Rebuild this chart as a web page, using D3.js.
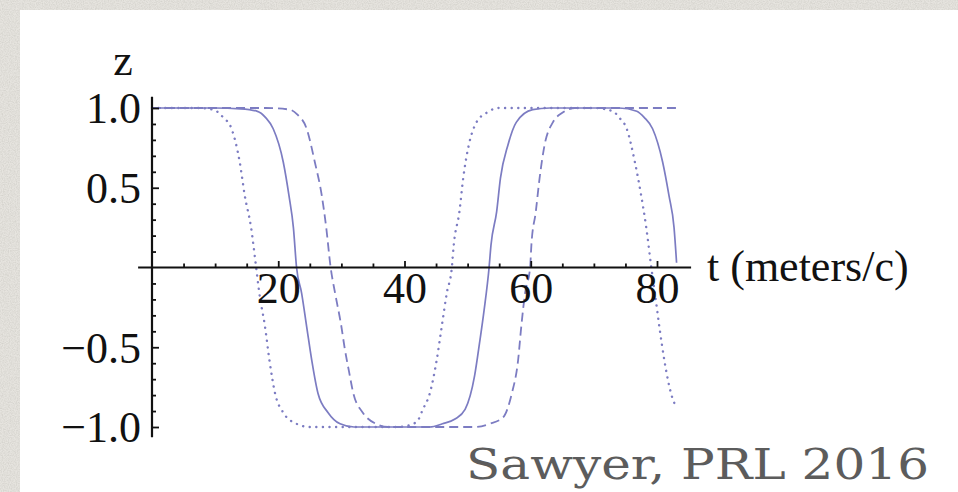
<!DOCTYPE html>
<html>
<head>
<meta charset="utf-8">
<script src="https://cdn.jsdelivr.net/npm/d3@7"></script>
<style>
  html, body { margin: 0; padding: 0; background: #e4e2dd; }
  svg { display: block; }
</style>
</head>
<body>
<svg id="chart" width="958" height="492"></svg>
<script>
// z(t) for three runs, read as [t, z] pairs
const solidSeries = [
  [0, 1], [10, 1], [14, 0.995], [16.6, 0.98], [18, 0.94], [19.2, 0.87], [20.8, 0.66],
  [21.7, 0.45], [22.4, 0.25], [22.9, 0], [23.7, -0.16], [24.5, -0.37], [25.3, -0.58],
  [26.3, -0.79], [27.9, -0.91], [29.8, -0.98], [32, -1], [44, -1], [46, -0.98],
  [48, -0.95], [49.6, -0.89], [51.1, -0.68], [51.9, -0.47], [52.6, -0.27], [53.4, 0],
  [53.7, 0.14], [54.6, 0.35], [55.2, 0.56], [56.4, 0.77], [57.7, 0.91], [60.3, 0.99],
  [63, 1], [74, 1], [76.8, 0.98], [78, 0.94], [79.3, 0.87], [80.9, 0.66], [81.9, 0.45],
  [82.7, 0.25], [83.1, 0.03]
];
const dashedSeries = [
  [0, 1], [18, 1], [21.8, 0.99], [23, 0.96], [24.5, 0.87], [25.8, 0.66], [26.9, 0.45],
  [27.6, 0.25], [28.3, 0], [29, -0.16], [30, -0.37], [30.5, -0.5], [31.2, -0.65],
  [31.9, -0.79], [33.4, -0.91], [35.5, -0.98], [37.5, -1], [51, -1], [53.5, -0.98],
  [55.6, -0.94], [57, -0.79], [58, -0.58], [58.5, -0.37], [59.1, -0.16], [59.9, 0],
  [60.1, 0.14], [60.8, 0.35], [61.4, 0.56], [62.2, 0.77], [63.5, 0.91], [65, 0.97],
  [67, 1], [83.3, 1]
];
const dottedSeries = [
  [0, 1], [7, 1], [9.7, 0.99], [11.3, 0.94], [12.6, 0.87], [13.9, 0.66], [14.7, 0.45],
  [15.7, 0.25], [16.5, 0], [17, -0.16], [17.9, -0.37], [18.6, -0.58], [19.5, -0.79],
  [20.8, -0.91], [22.9, -0.98], [25, -1], [39, -1], [41.9, -0.97], [42.9, -0.89],
  [44, -0.79], [45.1, -0.58], [45.9, -0.37], [46.7, -0.16], [47.5, 0], [47.8, 0.14],
  [48.7, 0.35], [49.3, 0.56], [50.2, 0.77], [51.4, 0.91], [53, 0.97], [55, 1],
  [70, 1], [73, 0.98], [74, 0.94], [75.2, 0.87], [76.5, 0.66], [77.5, 0.45],
  [78.3, 0.25], [79.1, 0], [79.7, -0.17], [80.4, -0.38], [81.2, -0.59], [82.3, -0.8],
  [83.1, -0.88]
];

// axis ticks and labels
const xMajorTicks = [20, 40, 60, 80];
const xMinorTicks = [5, 10, 15, 25, 30, 35, 45, 50, 55, 65, 70, 75];
const yMajorTicks = [1.0, 0.5, -0.5, -1.0];
const yMinorTicks = [0.9, 0.8, 0.7, 0.6, 0.4, 0.3, 0.2, 0.1, -0.1, -0.2, -0.3, -0.4,
                     -0.6, -0.7, -0.8, -0.9];
const xAxisExtent = [-2.2, 85.4];
const yAxisExtent = [-1.065, 1.07];
const xAxisTitle = "t (meters/c)";
const yAxisTitle = "z";
const creditText = "Sawyer, PRL 2016";

const svg = d3.select("#chart");

// textured backdrop
const defs = svg.append("defs");
const grain = defs.append("filter").attr("id", "grain")
  .attr("x", 0).attr("y", 0).attr("width", "100%").attr("height", "100%");
grain.append("feTurbulence").attr("type", "fractalNoise")
  .attr("baseFrequency", 0.85).attr("numOctaves", 2).attr("seed", 7);
grain.append("feColorMatrix").attr("type", "matrix")
  .attr("values", "0 0 0 0 0.45  0 0 0 0 0.44  0 0 0 0 0.40  0 0 0 -1.1 0.75");
svg.append("rect").attr("width", 958).attr("height", 492).attr("fill", "#e6e4df");
svg.append("rect").attr("width", 958).attr("height", 492)
  .attr("filter", "url(#grain)").attr("opacity", 0.55);

// white plot card
svg.append("rect").attr("x", 20).attr("y", 10).attr("width", 938).attr("height", 482)
  .attr("fill", "#ffffff");

const x = d3.scaleLinear().domain([0, 80]).range([152, 657]);
const y = d3.scaleLinear().domain([-1, 1]).range([427, 108]);

const serif = "'Liberation Serif', 'Times New Roman', serif";
const inkColor = "#7c7cc2";

// curves
const line = d3.line().x(d => x(d[0])).y(d => y(d[1])).curve(d3.curveMonotoneX);
const curves = svg.append("g").attr("fill", "none").attr("stroke", inkColor);
curves.append("path").datum(solidSeries).attr("d", line)
  .attr("stroke-width", 1.7);
curves.append("path").datum(dashedSeries).attr("d", line)
  .attr("stroke-width", 1.8).attr("stroke-dasharray", "9,5");
curves.append("path").datum(dottedSeries).attr("d", line)
  .attr("stroke-width", 2.4).attr("stroke-linecap", "round")
  .attr("stroke-dasharray", "0.1,6.5");

// axis lines through the origin
const axes = svg.append("g").attr("stroke", "#111").attr("stroke-width", 2.2);
axes.append("line")
  .attr("x1", x(xAxisExtent[0])).attr("x2", x(xAxisExtent[1]))
  .attr("y1", y(0)).attr("y2", y(0));
axes.append("line")
  .attr("x1", x(0)).attr("x2", x(0))
  .attr("y1", y(yAxisExtent[0])).attr("y2", y(yAxisExtent[1]));

function styleAxis(g) {
  g.select(".domain").remove();
  g.selectAll(".tick line").attr("stroke", "#111").attr("stroke-width", 1.8);
  g.selectAll(".tick text").attr("fill", "#111")
    .style("font-family", serif).style("font-size", "44px");
}

// x axis: ticks point up, labels below
svg.append("g").attr("transform", `translate(0,${y(0)})`)
  .call(d3.axisBottom(x).tickValues(xMinorTicks).tickSizeInner(-4).tickSizeOuter(0)
    .tickFormat(""))
  .call(styleAxis);
svg.append("g").attr("transform", `translate(0,${y(0)})`)
  .call(d3.axisBottom(x).tickValues(xMajorTicks).tickSizeInner(-6.5).tickSizeOuter(0)
    .tickPadding(8).tickFormat(d3.format("d")))
  .call(styleAxis)
  .call(g => g.selectAll(".tick text").attr("dy", "0.62em"));

// y axis: ticks point right, labels left
svg.append("g").attr("transform", `translate(${x(0)},0)`)
  .call(d3.axisLeft(y).tickValues(yMinorTicks).tickSizeInner(-4).tickSizeOuter(0)
    .tickFormat(""))
  .call(styleAxis);
svg.append("g").attr("transform", `translate(${x(0)},0)`)
  .call(d3.axisLeft(y).tickValues(yMajorTicks).tickSizeInner(-7).tickSizeOuter(0)
    .tickPadding(11).tickFormat(d => d3.format(".1f")(d).replace("-", "\u2212")))
  .call(styleAxis)
  .call(g => g.selectAll(".tick text").attr("dy", "0.34em"));

// axis titles
svg.append("text").attr("x", 123).attr("y", 75).attr("text-anchor", "middle")
  .attr("fill", "#111").style("font-family", serif).style("font-size", "44px")
  .text(yAxisTitle);
svg.append("text").attr("x", 707).attr("y", 281)
  .attr("fill", "#111").style("font-family", serif).style("font-size", "44px")
  .text(xAxisTitle);

// citation in a slab-serif face
svg.append("text").attr("x", 466).attr("y", 479)
  .attr("fill", "#5c5c5c")
  .attr("textLength", 463).attr("lengthAdjust", "spacingAndGlyphs")
  .style("font-family", "'DejaVu Serif', serif")
  .style("font-size", "42px")
  .text(creditText);
</script>
</body>
</html>
